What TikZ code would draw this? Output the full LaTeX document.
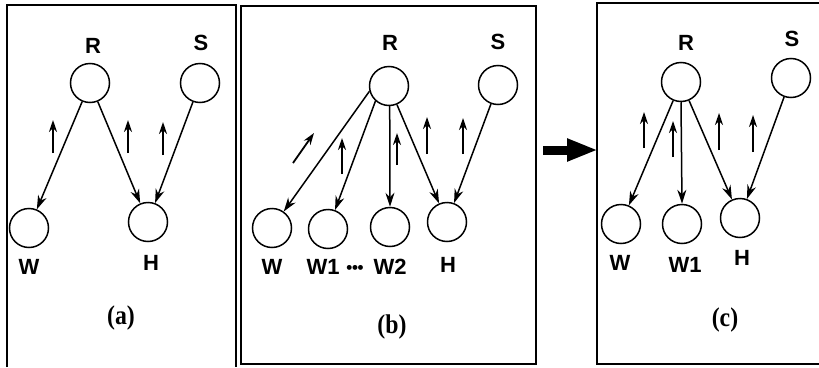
\documentclass[tikz,border=0pt]{standalone}
\usepackage{fontspec}
\newfontfamily\sansb{Liberation Sans}
\newfontfamily\serifb{Liberation Serif}[FakeStretch=0.88]
\usetikzlibrary{arrows.meta}
\tikzset{
  nd/.style={circle, draw, line width=1.5pt, minimum size=39pt, inner sep=0pt},
  lbl/.style={inner sep=0pt, font=\sansb\bfseries\fontsize{22}{22}\selectfont},
  captxt/.style={inner sep=0pt, font=\serifb\bfseries\fontsize{27}{27}\selectfont},
  edge/.style={line width=1.5pt, -{Stealth[length=14pt,width=9pt]}},
  flow/.style={line width=1.8pt, -{Stealth[length=12pt,width=8pt]}},
  panel/.style={line width=1.7pt},
  bigarrow/.style={line width=9pt, -{Triangle[length=31pt,width=21pt]}}
}
\begin{document}
\begin{tikzpicture}[x=1pt,y=-1pt]
\useasboundingbox (0,0) rectangle (819,367);
% panels
\draw[panel] (7,367) -- (7,5) -- (236,5) -- (236,367);
\draw[panel] (241,6) rectangle (536,364);
\draw[panel] (819,3) -- (597,3) -- (597,364) -- (819,364);

% ---------- panel (a)
\node[nd] (aR) at (90,83) {};
\node[nd] (aS) at (200,83) {};
\node[nd] (aW) at (29,228) {};
\node[nd] (aH) at (148,222) {};
\node[lbl] (aRl) at (93,46) {R};
\node[lbl] (aSl) at (201,43) {S};
\node[lbl] (aWl) at (29,267) {W};
\node[lbl] (aHl) at (151,263) {H};
\node[captxt] (acap) at (121,318) {(a)};
\draw[edge] (aR) -- (aW);
\draw[edge] (aR) -- (aH);
\draw[edge] (aS) -- (aH);
\coordinate (a1s) at (53,153); \coordinate (a1e) at (53,120);
\coordinate (a2s) at (128,153); \coordinate (a2e) at (128,120);
\coordinate (a3s) at (163,155); \coordinate (a3e) at (163,122);
\draw[flow] (a1s) -- (a1e);
\draw[flow] (a2s) -- (a2e);
\draw[flow] (a3s) -- (a3e);

% ---------- panel (b)
\node[nd] (bR) at (389,86) {};
\node[nd] (bS) at (498,85) {};
\node[nd] (bW) at (272,228) {};
\node[nd] (bW1) at (328,229) {};
\node[nd] (bW2) at (390,227) {};
\node[nd] (bH) at (447,222) {};
\node[lbl] (bRl) at (390,43) {R};
\node[lbl] (bSl) at (498,42) {S};
\node[lbl] (bWl) at (272,267) {W};
\node[lbl] (bW1l) at (323,267) {W1};
\node[lbl] (bdots) at (355,269) {\fontsize{17}{17}\selectfont •\kern-0.3pt•\kern-0.3pt•};
\node[lbl] (bW2l) at (390,267) {W2};
\node[lbl] (bHl) at (448,265) {H};
\node[captxt] (bcap) at (392,327) {(b)};
\draw[edge] (bR.195) -- (bW);
\draw[edge] (bR.228) -- (bW1);
\draw[edge] (bR.272) -- (bW2.90);
\draw[edge] (bR) -- (bH);
\draw[edge] (bS) -- (bH);
\coordinate (b1s) at (293,163); \coordinate (b1e) at (314,133);
\coordinate (b2s) at (342,174); \coordinate (b2e) at (342,138);
\coordinate (b3s) at (397,165); \coordinate (b3e) at (397,133);
\coordinate (b4s) at (427,154); \coordinate (b4e) at (427,117);
\coordinate (b5s) at (463,154); \coordinate (b5e) at (463,118);
\draw[flow] (b1s) -- (b1e);
\draw[flow] (b2s) -- (b2e);
\draw[flow] (b3s) -- (b3e);
\draw[flow] (b4s) -- (b4e);
\draw[flow] (b5s) -- (b5e);

% big arrow
\coordinate (bigs) at (543,150);
\coordinate (bige) at (598,150);
\draw[bigarrow] (bigs) -- (bige);

% ---------- panel (c)
\node[nd] (cR) at (681,82) {};
\node[nd] (cS) at (791,78) {};
\node[nd] (cW) at (621,224) {};
\node[nd] (cW1) at (682,224) {};
\node[nd] (cH) at (740,218) {};
\node[lbl] (cRl) at (686,43) {R};
\node[lbl] (cSl) at (792,39) {S};
\node[lbl] (cWl) at (620,263) {W};
\node[lbl] (cW1l) at (685,265) {W1};
\node[lbl] (cHl) at (742,258) {H};
\node[captxt] (ccap) at (725,320) {(c)};
\draw[edge] (cR) -- (cW);
\draw[edge] (cR.270) -- (cW1.90);
\draw[edge] (cR) -- (cH);
\draw[edge] (cS) -- (cH);
\coordinate (c1s) at (644,148); \coordinate (c1e) at (644,112);
\coordinate (c2s) at (673,157); \coordinate (c2e) at (673,121);
\coordinate (c3s) at (719,150); \coordinate (c3e) at (719,113);
\coordinate (c4s) at (753,152); \coordinate (c4e) at (753,115);
\draw[flow] (c1s) -- (c1e);
\draw[flow] (c2s) -- (c2e);
\draw[flow] (c3s) -- (c3e);
\draw[flow] (c4s) -- (c4e);
\end{tikzpicture}
\end{document}
